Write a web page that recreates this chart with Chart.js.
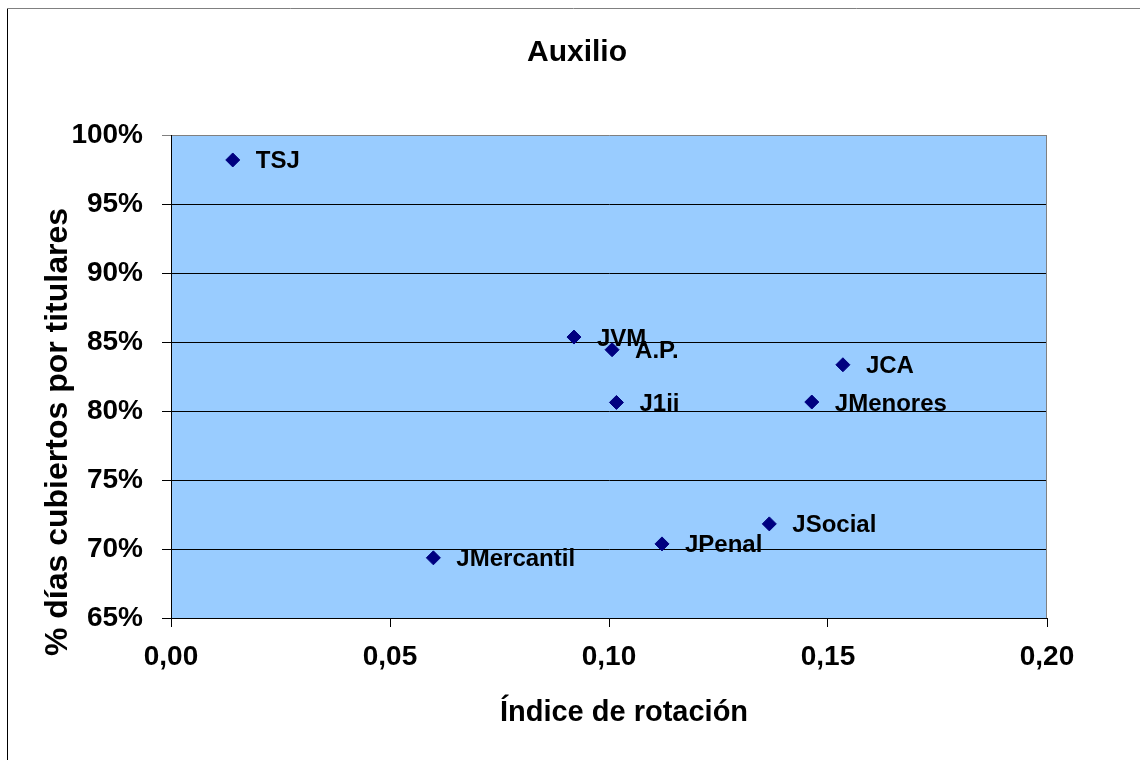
<!DOCTYPE html>
<html>
<head>
<meta charset="utf-8">
<script src="https://cdn.jsdelivr.net/npm/chart.js@4.4.1/dist/chart.umd.min.js"></script>
<style>
  body { margin: 0; background: #fff; }
  #wrap { width: 1140px; height: 760px; position: relative; }
</style>
</head>
<body>
<div id="wrap"><canvas id="myChart" width="1140" height="760"></canvas></div>
<script>
// data
let labels = ['TSJ', 'JVM', 'A.P.', 'J1ii', 'JCA', 'JMenores', 'JMercantil', 'JPenal', 'JSocial'];
let rotacion = [0.0141, 0.0920, 0.1007, 0.1017, 0.1534, 0.1463, 0.0599, 0.1121, 0.1366];
let cubiertos = [98.19, 85.36, 84.44, 80.62, 83.35, 80.65, 69.36, 70.37, 71.82];
let xTicks = [0, 0.05, 0.10, 0.15, 0.20];
let yTicks = [65, 70, 75, 80, 85, 90, 95, 100];

let chartTitle = 'Auxilio';
let xTitle = 'Índice de rotación';
let yTitle = '% días cubiertos por titulares';

let font = 'Arial, "Liberation Sans", sans-serif';
let points = rotacion.map((v, i) => ({ x: v, y: cubiertos[i] }));

// page frame + plot background + right edge + titles (Excel-like placement)
const frame = {
  id: 'frame',
  beforeDraw(chart) {
    let c = chart.ctx;
    let a = chart.chartArea;
    c.save();
    c.fillStyle = '#fff';
    c.fillRect(0, 0, chart.width, chart.height);
    c.strokeStyle = '#000';
    c.lineWidth = 1;
    c.beginPath();
    c.moveTo(7.5, 8);
    c.lineTo(7.5, chart.height);
    c.stroke();
    c.strokeStyle = '#808080';
    c.beginPath();
    c.moveTo(7, 8.5);
    c.lineTo(chart.width, 8.5);
    c.stroke();
    c.fillStyle = '#99CCFF';
    c.fillRect(a.left, a.top, a.right - a.left, a.bottom - a.top);
    c.restore();
  },
  afterDraw(chart) {
    let c = chart.ctx;
    let a = chart.chartArea;
    c.save();
    c.strokeStyle = '#808080';
    c.lineWidth = 1;
    c.beginPath();
    c.moveTo(a.right - 0.5, a.top);
    c.lineTo(a.right - 0.5, a.bottom);
    c.stroke();

    c.fillStyle = '#000';
    c.textAlign = 'center';
    c.textBaseline = 'middle';
    c.font = 'bold 30px ' + font;
    c.fillText(chartTitle, 577, 53);
    c.font = 'bold 29px ' + font;
    c.fillText(xTitle, 624, 713);
    c.translate(58, 432);
    c.rotate(-Math.PI / 2);
    c.font = 'bold 32px ' + font;
    c.fillText(yTitle, 0, 0);
    c.restore();
  }
};

// point names next to markers
const pointNames = {
  id: 'pointNames',
  afterDatasetsDraw(chart) {
    let c = chart.ctx;
    let meta = chart.getDatasetMeta(0);
    c.save();
    c.font = 'bold 24px ' + font;
    c.fillStyle = '#000';
    c.textAlign = 'left';
    c.textBaseline = 'alphabetic';
    meta.data.forEach((p, i) => {
      c.fillText(labels[i], p.x + 23, p.y + 8.5);
    });
    c.restore();
  }
};

let ctx = document.getElementById('myChart');
new Chart(ctx, {
  type: 'scatter',
  data: {
    datasets: [{
      label: 'Auxilio',
      data: points,
      pointStyle: 'rectRot',
      pointRadius: 7,
      pointHoverRadius: 7,
      backgroundColor: '#000080',
      borderColor: '#000080',
      borderWidth: 1
    }]
  },
  options: {
    responsive: false,
    animation: false,
    events: [],
    layout: { padding: { left: 0, right: 93, top: 135, bottom: 0 } },
    plugins: {
      legend: { display: false },
      tooltip: { enabled: false },
      title: { display: false }
    },
    scales: {
      x: {
        type: 'linear',
        min: 0,
        max: 0.2,
        afterFit(scale) { scale.height = 142; },
        afterBuildTicks(scale) { scale.ticks = xTicks.map(v => ({ value: v })); },
        ticks: {
          color: '#000',
          padding: 13,
          font: { family: font, size: 28, weight: 'bold' },
          callback: v => v.toFixed(2).replace('.', ',')
        },
        grid: { drawOnChartArea: false, drawTicks: true, tickLength: 9, color: '#000' },
        border: { color: '#000', width: 1 }
      },
      y: {
        type: 'linear',
        min: 65,
        max: 100,
        afterFit(scale) { scale.width = 171; },
        afterBuildTicks(scale) { scale.ticks = yTicks.map(v => ({ value: v })); },
        ticks: {
          color: '#000',
          padding: 19,
          font: { family: font, size: 28, weight: 'bold' },
          callback: v => v + '%'
        },
        grid: {
          tickLength: 9,
          color: c => (c.tick && c.tick.value === 100) ? '#808080' : '#000'
        },
        border: { color: '#000', width: 1 }
      }
    }
  },
  plugins: [frame, pointNames]
});
</script>
</body>
</html>
